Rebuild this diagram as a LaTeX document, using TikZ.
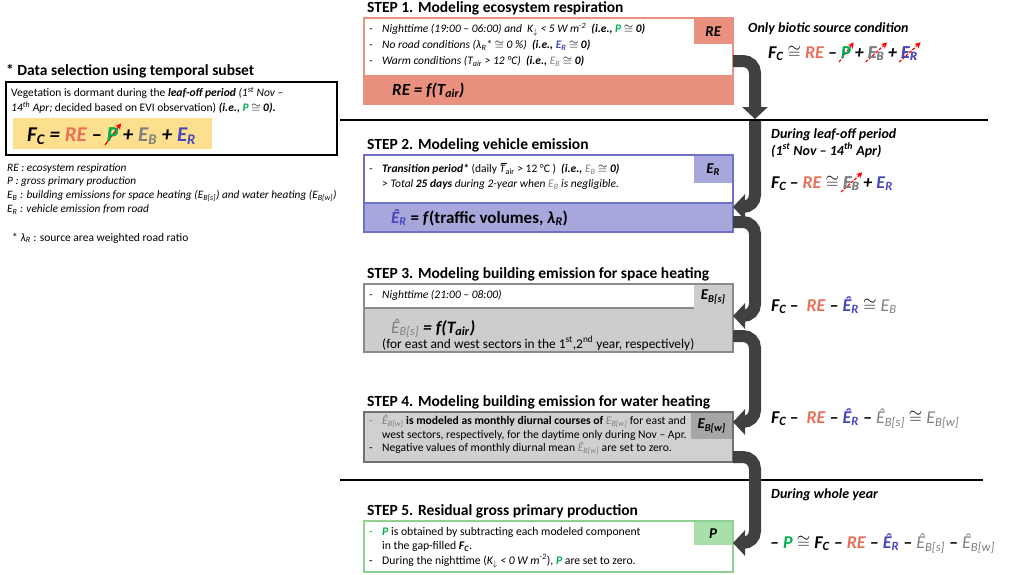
\documentclass[tikz,border=0pt]{standalone}
\usepackage{fontspec}
\setmainfont{Carlito}
\usetikzlibrary{arrows.meta, positioning}

\definecolor{cre}{HTML}{E8705A}
\definecolor{cp}{HTML}{00B050}
\definecolor{ceb}{HTML}{7F7F7F}
\definecolor{cer}{HTML}{4848BC}
\definecolor{s1fill}{HTML}{E9907F}
\definecolor{s2line}{HTML}{7070C8}
\definecolor{s2fill}{HTML}{A7A7DC}
\definecolor{s3line}{HTML}{8A8A8A}
\definecolor{s3fill}{HTML}{CDCDCD}
\definecolor{s4line}{HTML}{707070}
\definecolor{s4fill}{HTML}{D0D0D0}
\definecolor{s4tag}{HTML}{A6A6A6}
\definecolor{s5line}{HTML}{90D090}
\definecolor{s5fill}{HTML}{A9DFA9}
\definecolor{cyellow}{HTML}{FCE08F}
\definecolor{arrowgray}{HTML}{404040}

\tikzset{strike/.style={red, line width=1.2pt, dash pattern=on 3pt off 1.5pt, -{Stealth[length=6pt, width=6pt]}}}

% crossed-out term
\newsavebox\xbox
\newlength\xw
\newlength\xh
\newcommand\xout[2][]{%
  \sbox\xbox{#2}\setlength\xw{\wd\xbox}\setlength\xh{\ht\xbox}%
  \rlap{\usebox\xbox}%
  \tikz[overlay]\draw[strike,#1] (-2pt,-4pt) -- (\xw+3pt,\xh+4pt);%
  \usebox\xbox}

% terms
\newcommand\FC{\textit{F\textsubscript{C}}}
\newcommand\RE{\textcolor{cre}{\textit{RE}}}
\newcommand\PP{\textcolor{cp}{\textit{P}}}
\newcommand\EB{\textcolor{ceb}{\textit{E\textsubscript{B}}}}
\newcommand\ER{\textcolor{cer}{\textit{E\textsubscript{R}}}}
\newcommand\hER{\textcolor{cer}{\textit{\^{E}\textsubscript{R}}}}
\newcommand\hEBs{\textcolor{ceb}{\mdseries\textit{\^{E}\textsubscript{B[s]}}}}
\newcommand\hEBw{\textcolor{ceb}{\mdseries\textit{\^{E}\textsubscript{B[w]}}}}
\newcommand\EBw{\textcolor{ceb}{\mdseries\textit{E\textsubscript{B[w]}}}}
\newcommand\Tair{\textit{T\textsubscript{air}}}
\newcommand\Tbar{\rlap{\raisebox{0.78em}{\kern0.15em\rule{0.45em}{0.05em}}}\textit{T}}
\newcommand\bl{\makebox[13pt][l]{-}}

\begin{document}
\begin{tikzpicture}[
    x=1pt, y=1pt,
    stepbox/.style={draw, line width=1.2pt, minimum width=369pt, anchor=north west, inner sep=0pt, outer sep=0pt},
    band/.style={draw, line width=1.2pt, minimum width=369pt, anchor=south west, inner sep=0pt, outer sep=0pt},
    tagbox/.style={anchor=north east, minimum width=38pt, inner sep=0pt, font=\fontsize{15}{17}\selectfont\bfseries\itshape},
    steptitle/.style={anchor=base west, inner sep=0pt, font=\fontsize{15.5}{18}\selectfont\bfseries},
    bullets/.style={anchor=north west, align=left, inner sep=0pt, font=\fontsize{11.5}{15}\selectfont},
    eqn/.style={anchor=base west, inner sep=0pt, font=\fontsize{18}{21}\selectfont\bfseries\itshape},
    note/.style={anchor=base west, align=left, inner sep=0pt, font=\fontsize{14}{17}\selectfont\bfseries\itshape},
    bigarrow/.style={draw=arrowgray, line width=12pt, rounded corners=12pt, -{Triangle[width=25pt, length=12pt]}},
    divider/.style={line width=1.5pt}
]
\useasboundingbox (0,0) rectangle (1009,-574);

% Data selection
\node[steptitle] (seltitle) at (6,-75) {* Data selection using temporal subset};
\node[draw, line width=1.6pt, minimum width=331pt, minimum height=73pt, anchor=north west, inner sep=0pt, outer sep=0pt] (sel) at (6,-82) {};
\node[bullets, font=\fontsize{11.5}{15}\selectfont] (seltext) at (11,-87)
  {Vegetation is dormant during the \textbf{\textit{leaf-off period}} \textit{(1\textsuperscript{st} Nov --}\\
   \textit{14\textsuperscript{th} Apr;} decided based on EVI observation) \textbf{\textit{(i.e., \PP\ $\cong$ 0).}}};
\node[fill=cyellow, minimum width=199pt, minimum height=31pt, anchor=north west, inner sep=0pt] (selbar) at (13,-118) {};
\node[eqn, font=\fontsize{21}{23}\selectfont\bfseries\itshape] (seleq) at (27,-141) {\FC\ = \RE\ -- \xout[solid]{\PP} + \EB\ + \ER};
\node[bullets, font=\fontsize{11.3}{13.8}\selectfont\itshape] (legend) at (7,-163)
  {RE : ecosystem respiration\\
   P : gross primary production\\
   E\textsubscript{B} : building emissions for space heating (E\textsubscript{B[s]}) and water heating (E\textsubscript{B[w]})\\
   E\textsubscript{R} : vehicle emission from road};
\node[anchor=base west, inner sep=0pt, font=\fontsize{11.5}{13}\selectfont] (lambda) at (12,-241) {* \textit{λ\textsubscript{R}} : source area weighted road ratio};

% Step 1
\node[stepbox, minimum height=86pt, draw=s1fill, fill=white] (s1) at (364,-18) {};
\node[band, minimum height=28pt, draw=s1fill, fill=s1fill] (s1band) at (s1.south west) {};
\node[tagbox, minimum height=25pt, fill=s1fill] (s1tag) at ([shift={(-0.6,-0.6)}]s1.north east) {RE};
\node[above right=6pt and 3pt of s1.north west, steptitle] (s1title) {STEP 1. Modeling ecosystem respiration};
\node[bullets, font=\fontsize{11.5}{16}\selectfont\itshape] (s1text) at (369,-23)
  {\bl Nighttime (19:00 -- 06:00) and~~K\textsubscript{$\downarrow$} < 5 W m\textsuperscript{-2}~~\textbf{(i.e., \PP\ $\cong$ 0)}\\
   \bl No road conditions (λ\textsubscript{R}* $\cong$ 0 \%)~~\textbf{(i.e., \ER\ $\cong$ 0)}\\
   \bl Warm conditions (T\textsubscript{air} > 12 °C)~~\textbf{(i.e., {\mdseries\EB} $\cong$ 0)}};
\node[eqn, font=\fontsize{17}{20}\selectfont\bfseries\itshape] (s1eq) at (392,-95) {RE = f(\Tair)};

% Step 2
\node[stepbox, minimum height=77pt, draw=s2line, fill=white] (s2) at (364,-155) {};
\node[band, minimum height=29pt, draw=s2line, fill=s2fill] (s2band) at (s2.south west) {};
\node[tagbox, minimum height=27pt, fill=s2fill] (s2tag) at ([shift={(-0.6,-0.6)}]s2.north east) {E\textsubscript{R}};
\node[above right=6pt and 3pt of s2.north west, steptitle] (s2title) {STEP 2. Modeling vehicle emission};
\node[bullets, font=\fontsize{11.5}{14.5}\selectfont\itshape] (s2text) at (369,-163)
  {\bl \textbf{Transition period*} {\upshape(daily \Tbar\textsubscript{air} > 12 °C )}~~\textbf{(i.e., {\mdseries\EB} $\cong$ 0)}\\
   \hspace*{13pt}> Total \textbf{25 days} during 2-year when \EB\ is negligible.};
\node[eqn, font=\fontsize{17}{20}\selectfont\bfseries] (s2eq) at (391,-223) {\hER\ = \textit{f}(traffic volumes, \textit{λ\textsubscript{R}})};

% Step 3
\node[stepbox, minimum height=68pt, draw=s3line, fill=white] (s3) at (364,-284) {};
\node[band, minimum height=44pt, draw=s3line, fill=s3fill] (s3band) at (s3.south west) {};
\node[tagbox, minimum height=24pt, fill=s3fill] (s3tag) at ([shift={(-0.6,-0.6)}]s3.north east) {E\textsubscript{B[s]}};
\node[above right=6pt and 3pt of s3.north west, steptitle] (s3title) {STEP 3. Modeling building emission for space heating};
\node[bullets, font=\fontsize{11.5}{14}\selectfont\itshape] (s3text) at (369,-290) {\bl Nighttime (21:00 -- 08:00)};
\node[eqn, font=\fontsize{17.5}{20}\selectfont\bfseries\itshape] (s3eq) at (391,-333) {\hEBs\ = f(\Tair)};
\node[anchor=base west, inner sep=0pt, font=\fontsize{13.4}{15}\selectfont] (s3note) at (382,-348) {(for east and west sectors in the 1\textsuperscript{st},2\textsuperscript{nd} year, respectively)};

% Step 4
\node[stepbox, minimum height=50pt, draw=s4line, fill=s4fill] (s4) at (364,-412) {};
\node[tagbox, minimum width=41pt, minimum height=26pt, fill=s4tag] (s4tag) at ([shift={(-0.6,-0.6)}]s4.north east) {E\textsubscript{B[w]}};
\node[above right=6pt and 3pt of s4.north west, steptitle] (s4title) {STEP 4. Modeling building emission for water heating};
\node[bullets, font=\fontsize{11.6}{13.5}\selectfont] (s4text) at (369,-415)
  {{\color{ceb}\bl}\hEBw\ \textbf{is modeled as monthly diurnal courses of} \EBw\ for east and\\
   \hspace*{13pt}west sectors, respectively, for the daytime only during Nov -- Apr.\\
   \bl Negative values of monthly diurnal mean \hEBw\ are set to zero.};

% Step 5
\node[stepbox, minimum height=51pt, draw=s5line, fill=white] (s5) at (364,-521) {};
\node[tagbox, minimum height=23pt, fill=s5fill] (s5tag) at ([shift={(-0.6,-0.6)}]s5.north east) {P};
\node[above right=6pt and 3pt of s5.north west, steptitle] (s5title) {STEP 5. Residual gross primary production};
\node[bullets, font=\fontsize{11.7}{14.5}\selectfont] (s5text) at (369,-527)
  {{\color{cp}\bl}\textbf{\PP} is obtained by subtracting each modeled component\\
   \hspace*{13pt}in the gap-filled \textbf{\FC}.\\
   \bl During the nighttime (\textit{K\textsubscript{$\downarrow$} < 0 W m\textsuperscript{-2}}), \textbf{\PP} are set to zero.};

% Right-hand conditions
\node[note] (n1) at (748,-32) {Only biotic source condition};
\node[eqn] (e1) at (768,-58) {\FC\ $\cong$ \RE\ -- \xout{\PP} + \xout{\EB} + \xout{\ER}};
\node[note] (n2) at (771,-155) {During leaf-off period\\(1\textsuperscript{st} Nov -- 14\textsuperscript{th} Apr)};
\node[eqn] (e2) at (771,-188) {\FC\,-- \RE\ $\cong$ \xout{\EB} + \ER};
\node[eqn] (e3) at (771,-311) {\FC\,--~ \RE\ -- \hER\ $\cong$ {\mdseries\EB}};
\node[eqn] (e4) at (771,-423) {\FC\,--~ \RE\ -- \hER\ -- \hEBs\ $\cong$ \EBw};
\node[note] (n3) at (771,-498) {During whole year};
\node[eqn] (e5) at (770,-548) {-- \PP\ $\cong$ \FC\ -- \RE\ -- \hER\ -- \hEBs\ -- \hEBw};

% Dividers
\coordinate (l1w) at (340,-120);
\coordinate (l1e) at (988,-120);
\coordinate (l2w) at (340,-480);
\coordinate (l2e) at (983,-480);
\draw[divider] (l1w) -- (l1e);
\draw[divider] (l2w) -- (l2e);

% Arrows
\coordinate (d1) at (755,-119);
\coordinate (d2) at (755,-121);
\draw[bigarrow] (s1.east) -| (d1);
\draw[bigarrow] (d2) |- ([yshift=-4pt]s2band.north east);
\draw[bigarrow] ([yshift=-4.5pt]s2band.east) -- ++(22,0) |- ([yshift=-8pt]s3band.north east);
\draw[bigarrow] ([yshift=-6pt]s3band.east) -- ++(22,0) |- ([yshift=-10pt]s4.north east);
\draw[bigarrow] ([yshift=5pt]s4.south east) -- ++(22,0) |- ([yshift=-22pt]s5.north east);

\end{tikzpicture}
\end{document}
